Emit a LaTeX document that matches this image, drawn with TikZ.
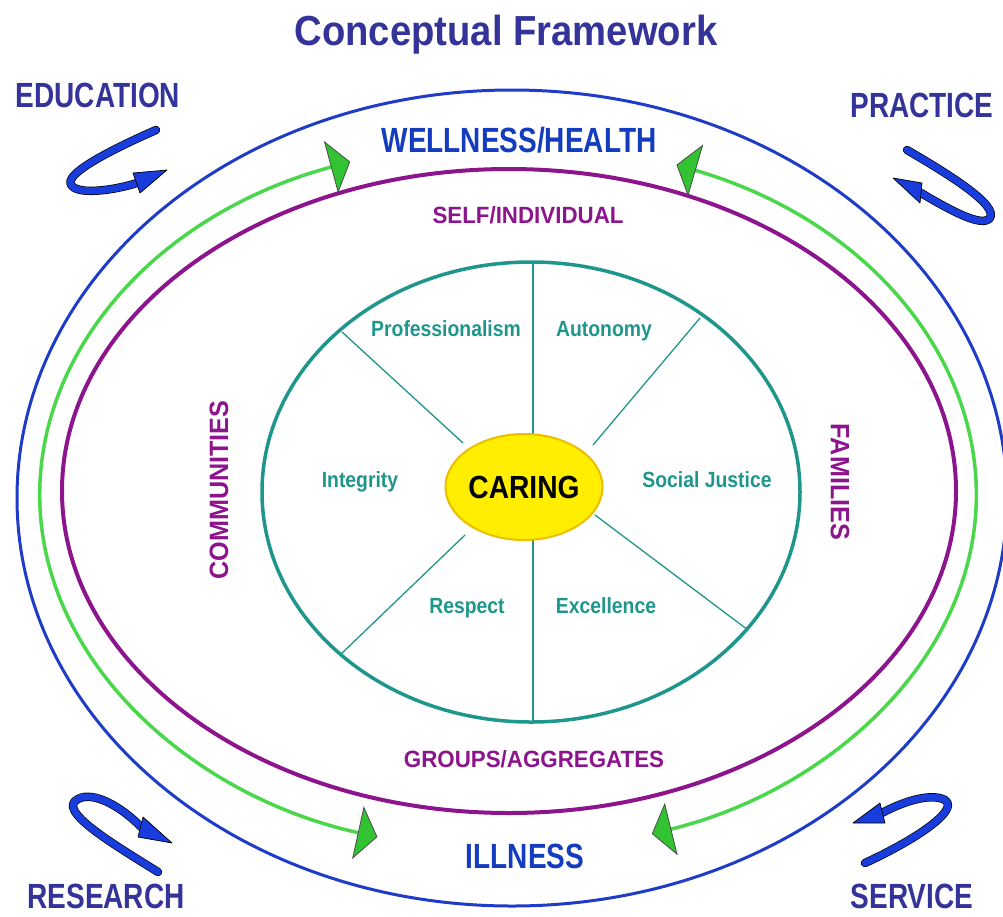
\documentclass[tikz,border=0pt]{standalone}
\usepackage{fontspec}
\usetikzlibrary{shapes.geometric,arrows.meta}
\setmainfont{Liberation Sans}
\newfontfamily\titlefont[FakeStretch=0.91]{Liberation Sans}
\newfontfamily\cornerfont[FakeStretch=0.80]{Liberation Sans}
\newfontfamily\ringfont[FakeStretch=0.95]{Liberation Sans}
\newfontfamily\valuefont[FakeStretch=0.88]{Liberation Sans}
\definecolor{titleblue}{RGB}{51,51,153}
\definecolor{ringblue}{RGB}{30,60,200}
\definecolor{healthblue}{RGB}{20,60,190}
\definecolor{ringpurple}{RGB}{140,20,140}
\definecolor{ringteal}{RGB}{30,150,140}
\definecolor{arcgreen}{RGB}{75,215,75}
\definecolor{tipgreen}{RGB}{50,195,50}
\definecolor{curlblue}{RGB}{25,60,220}
\definecolor{caringyellow}{RGB}{255,238,0}
\definecolor{caringborder}{RGB}{235,190,0}
\begin{document}
\begin{tikzpicture}[x=1pt, y=-1pt, line cap=round, line join=round,
  titlelbl/.style={font=\titlefont\bfseries\fontsize{42}{48}\selectfont, text=titleblue, anchor=base, inner sep=0pt},
  cornerlbl/.style={font=\cornerfont\bfseries\fontsize{35}{40}\selectfont, text=titleblue, anchor=base, inner sep=0pt},
  healthlbl/.style={font=\cornerfont\bfseries\fontsize{35}{40}\selectfont, text=healthblue, anchor=base, inner sep=0pt},
  ringlbl/.style={font=\ringfont\bfseries\fontsize{23.5}{28}\selectfont, text=ringpurple, anchor=base, inner sep=0pt},
  sidelbl/.style={font=\ringfont\bfseries\fontsize{26.5}{30}\selectfont, text=ringpurple, inner sep=0pt},
  valuelbl/.style={font=\valuefont\bfseries\fontsize{22}{26}\selectfont, text=ringteal, anchor=base, inner sep=0pt},
  caring/.style={ellipse, fill=caringyellow, draw=caringborder, line width=2pt, minimum width=152pt, minimum height=106pt, inner sep=0pt, font=\valuefont\bfseries\fontsize{32}{36}\selectfont},
  spoke/.style={draw=ringteal, line width=1.3pt},
  greenarc/.style={draw=arcgreen, line width=3.5pt, <->, >={Triangle[length=20pt,width=54pt,color=black!70,fill=tipgreen,line width=0.8pt]}},
  ribbon/.style={draw=black, line width=0.7pt, double=curlblue, double distance=7pt},
  curltip/.style={fill=curlblue, draw=black, line width=0.7pt}]
\useasboundingbox (0,0) rectangle (1003,916);
% Rings
\draw[ringblue, line width=3pt] (512,498) ellipse [x radius=495, y radius=408];
\draw[ringpurple, line width=4pt] (509,491) ellipse [x radius=447, y radius=322];
\draw[ringteal, line width=3.5pt] (531,492) ellipse [x radius=269, y radius=230];
% Green arcs between wellness and illness
\draw[greenarc] (508,496) ++(250.3:468 and 355) arc[start angle=250.3, end angle=106.2, x radius=468, y radius=355];
\draw[greenarc] (508,496) ++(-68.9:468 and 355) arc[start angle=-68.9, end angle=72.1, x radius=468, y radius=355];
% Spokes
\draw[spoke] (533,262) -- (533,440);
\draw[spoke] (533,535) -- (533,723);
\draw[spoke] (342,332) -- (463,443);
\draw[spoke] (700,318) -- (593,445);
\draw[spoke] (340,655) -- (465,535);
\draw[spoke] (748,630) -- (595,515);
% Centre
\node[caring] (core) at (524,487) {CARING};
% Values
\node[valuelbl] (prof) at (446,336) {Professionalism};
\node[valuelbl] (auto) at (604,336) {Autonomy};
\node[valuelbl] (integ) at (360,487) {Integrity};
\node[valuelbl] (justice) at (707,487) {Social Justice};
\node[valuelbl] (respect) at (467,613) {Respect};
\node[valuelbl] (excel) at (606,613) {Excellence};
% Ring labels
\node[ringlbl] (self) at (528,223) {SELF/INDIVIDUAL};
\node[ringlbl] (groups) at (534,767) {GROUPS/AGGREGATES};
\node[sidelbl, rotate=90] (comm) at (219,490) {COMMUNITIES};
\node[sidelbl, rotate=-90] (fam) at (840,482) {FAMILIES};
\node[healthlbl] (well) at (519,152) {WELLNESS/HEALTH};
\node[healthlbl] (ill) at (525,868) {ILLNESS};
% Title and corners
\node[titlelbl] (title) at (506,45) {Conceptual Framework};
\node[cornerlbl] (edu) at (98,107) {EDUCATION};
\node[cornerlbl] (prac) at (922,117) {PRACTICE};
\node[cornerlbl] (res) at (106,908) {RESEARCH};
\node[cornerlbl] (serv) at (912,908) {SERVICE};
% Curly arrows
\draw[ribbon] (156,130) .. controls (115,148) and (60,175) .. (72,186) .. controls (80,195) and (115,190) .. (137,183);
\filldraw[curltip] (167,170) -- (133,173) -- (140,193) -- cycle;
\draw[ribbon] (907,150) .. controls (950,175) and (998,205) .. (990,218) .. controls (982,228) and (950,210) .. (921,193);
\filldraw[curltip] (893,178) -- (922,183) -- (920,203) -- cycle;
\draw[ribbon] (158,872) .. controls (115,845) and (55,810) .. (78,799) .. controls (95,790) and (125,810) .. (141,827);
\filldraw[curltip] (172,843) -- (143,817) -- (138,837) -- cycle;
\draw[ribbon] (865,863) .. controls (915,840) and (960,810) .. (945,800) .. controls (930,792) and (900,803) .. (882,813);
\filldraw[curltip] (853,823) -- (880,803) -- (885,823) -- cycle;
\end{tikzpicture}
\end{document}
